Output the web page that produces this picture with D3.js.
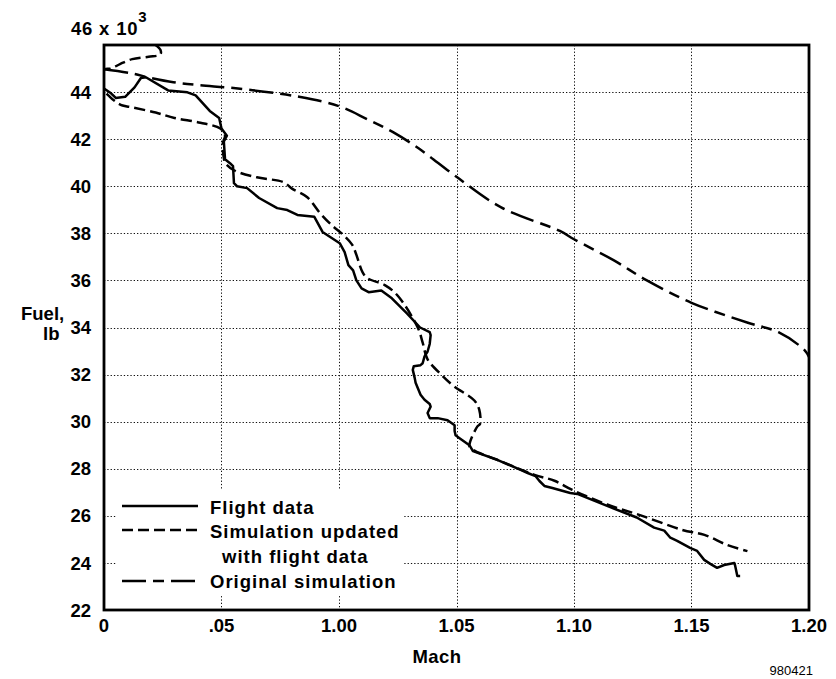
<!DOCTYPE html>
<html>
<head>
<meta charset="utf-8">
<script src="https://cdn.jsdelivr.net/npm/d3@7"></script>
<style>
  html, body { margin: 0; padding: 0; background: #fff; }
  svg { display: block; }
  text { font-family: "Liberation Sans", Arial, Helvetica, sans-serif; fill: #000; }
</style>
</head>
<body>
<svg id="chart" width="836" height="679"></svg>
<script>
// Mach tick values and their printed labels
const machTicks = [0.90, 0.95, 1.00, 1.05, 1.10, 1.15, 1.20];
const machLabels = ["0", ".05", "1.00", "1.05", "1.10", "1.15", "1.20"];
// Fuel tick values (thousands of lb)
const fuelTicks = [22, 24, 26, 28, 30, 32, 34, 36, 38, 40, 42, 44];

// Flight data: [Mach, fuel (x 10^3 lb)]
const flightData = [
  [0.900, 44.15], [0.903, 43.95], [0.905, 43.75], [0.909, 43.8], [0.913, 44.2],
  [0.9157, 44.6], [0.9178, 44.63], [0.9273, 44.07], [0.9355, 43.99], [0.939, 43.86],
  [0.945, 43.2], [0.949, 42.9], [0.950, 42.45], [0.9523, 42.15], [0.951, 41.9],
  [0.9515, 41.15], [0.9536, 40.98], [0.9549, 40.85], [0.9553, 40.13], [0.9566, 40.0],
  [0.9609, 39.92], [0.966, 39.5], [0.9737, 39.07], [0.978, 38.99], [0.9823, 38.78],
  [0.9895, 38.7], [0.993, 38.06], [1.0003, 37.58], [1.0024, 37.2], [1.004, 36.65],
  [1.006, 36.43], [1.0074, 36.0], [1.0096, 35.66], [1.0126, 35.5], [1.018, 35.57],
  [1.0225, 35.24], [1.0289, 34.6], [1.0345, 34.0], [1.0386, 33.8], [1.039, 33.68],
  [1.0386, 33.3], [1.0377, 32.98], [1.0364, 32.77], [1.0356, 32.48], [1.0347, 32.4],
  [1.0318, 32.35], [1.0314, 32.2], [1.0322, 31.86], [1.0326, 31.65], [1.0347, 31.14],
  [1.0364, 30.93], [1.0386, 30.75], [1.039, 30.64], [1.0377, 30.37], [1.0386, 30.15],
  [1.042, 30.15], [1.0462, 30.06], [1.0492, 29.85], [1.0492, 29.6], [1.0496, 29.42],
  [1.0513, 29.3], [1.0555, 29.0], [1.057, 28.75], [1.0676, 28.37], [1.0773, 27.95],
  [1.0803, 27.82], [1.0836, 27.69], [1.0853, 27.48], [1.0874, 27.27], [1.0908, 27.18],
  [1.0984, 26.97], [1.1014, 26.93], [1.1141, 26.42], [1.1267, 25.93], [1.1341, 25.5],
  [1.1384, 25.37], [1.141, 25.07], [1.1439, 24.94], [1.1494, 24.64], [1.1524, 24.51],
  [1.1554, 24.13], [1.158, 23.96], [1.1609, 23.79], [1.1639, 23.91], [1.1682, 24.0],
  [1.1686, 23.87], [1.1695, 23.44], [1.1707, 23.44]
];

// Simulation updated with flight data
const updatedSim = [
  [0.9219, 46.0], [0.924, 45.8], [0.924, 45.6], [0.919, 45.5], [0.912, 45.4],
  [0.907, 45.2], [0.903, 45.0], [0.900, 44.95], [0.900, 44.1], [0.9025, 43.8],
  [0.9054, 43.56], [0.9079, 43.43], [0.912, 43.35], [0.922, 43.13], [0.930, 42.9],
  [0.941, 42.7], [0.9495, 42.45], [0.9515, 42.15], [0.9505, 41.8], [0.951, 41.2],
  [0.9515, 41.0], [0.9553, 40.68], [0.965, 40.38], [0.9765, 40.17], [0.980, 39.9],
  [0.9865, 39.53], [0.992, 38.85], [0.997, 38.34], [1.0015, 37.96], [1.0055, 37.53],
  [1.007, 37.2], [1.010, 36.35], [1.012, 36.1], [1.0195, 35.8], [1.025, 35.35],
  [1.0335, 34.0], [1.0356, 33.36], [1.0377, 32.65], [1.044, 31.95], [1.049, 31.5],
  [1.0576, 30.9], [1.0597, 30.5], [1.060, 29.9], [1.0589, 29.8], [1.0555, 28.95],
  [1.057, 28.8], [1.0676, 28.37], [1.0832, 27.74], [1.0917, 27.49], [1.0993, 27.1],
  [1.1141, 26.48], [1.1290, 26.0], [1.1461, 25.4], [1.1555, 25.19], [1.1653, 24.76],
  [1.1738, 24.5]
];

// Original simulation
const originalSim = [
  [0.900, 44.97], [0.9115, 44.8], [0.920, 44.6], [0.9295, 44.42], [0.940, 44.3],
  [0.957, 44.15], [0.983, 43.8], [1.000, 43.4], [1.012, 42.85], [1.023, 42.3],
  [1.034, 41.6], [1.050, 40.4], [1.069, 39.1], [1.094, 38.1], [1.100, 37.75],
  [1.117, 36.85], [1.131, 36.0], [1.150, 35.05], [1.174, 34.2], [1.187, 33.8],
  [1.198, 33.05], [1.200, 32.75]
];

const legendItems = [
  { lines: ["Flight data"], dash: null },
  { lines: ["Simulation updated", "with flight data"], dash: "11,5" },
  { lines: ["Original simulation"], dash: "24,7,11,7" }
];

const svg = d3.select("#chart");
const plotLeft = 104, plotRight = 809, plotTop = 45, plotBottom = 610;

const x = d3.scaleLinear().domain([0.90, 1.20]).range([plotLeft, plotRight]);
const y = d3.scaleLinear().domain([22, 46]).range([plotBottom, plotTop]);

svg.append("defs").append("clipPath").attr("id", "plotClip")
  .append("rect").attr("x", plotLeft).attr("y", plotTop)
  .attr("width", plotRight - plotLeft).attr("height", plotBottom - plotTop);

// dotted grid
const grid = svg.append("g").attr("stroke", "#111").attr("stroke-width", 1)
  .attr("stroke-dasharray", "1.3,2");
grid.selectAll("line.v").data(machTicks.slice(1, -1)).join("line")
  .attr("class", "v")
  .attr("x1", d => Math.round(x(d)) + 0.5).attr("x2", d => Math.round(x(d)) + 0.5)
  .attr("y1", plotTop).attr("y2", plotBottom);
grid.selectAll("line.h").data(fuelTicks.slice(1)).join("line")
  .attr("class", "h")
  .attr("x1", plotLeft).attr("x2", plotRight)
  .attr("y1", d => Math.round(y(d)) + 0.5).attr("y2", d => Math.round(y(d)) + 0.5);

// legend background
svg.append("rect").attr("x", 116).attr("y", 490).attr("width", 288).attr("height", 106)
  .attr("fill", "#fff");

// series
const plot = svg.append("g").attr("clip-path", "url(#plotClip)").attr("fill", "none")
  .attr("stroke", "#000").attr("stroke-width", 2.5).attr("stroke-linejoin", "round");

const linePlain = d3.line().x(d => x(d[0])).y(d => y(d[1]));
const lineSmooth = d3.line().x(d => x(d[0])).y(d => y(d[1])).curve(d3.curveCatmullRom.alpha(0.5));

plot.append("path").datum(originalSim).attr("d", lineSmooth)
  .attr("stroke-dasharray", "24,7,11,7");
plot.append("path").datum(updatedSim).attr("d", lineSmooth)
  .attr("stroke-dasharray", "11,5");
plot.append("path").datum(flightData).attr("d", linePlain);

// frame
svg.append("rect").attr("x", plotLeft).attr("y", plotTop)
  .attr("width", plotRight - plotLeft).attr("height", plotBottom - plotTop)
  .attr("fill", "none").attr("stroke", "#000").attr("stroke-width", 2.8);

// y tick labels
svg.append("g").selectAll("text").data(fuelTicks).join("text")
  .attr("x", 91).attr("y", d => y(d)).attr("dy", "0.36em")
  .attr("text-anchor", "end").attr("font-size", 18.5).attr("font-weight", "bold")
  .text(d => d);

// 46 x 10^3 top label
const topLbl = svg.append("text").attr("x", 71).attr("y", 35)
  .attr("font-size", 18.5).attr("font-weight", "bold").attr("letter-spacing", 0.8);
topLbl.append("tspan").text("46 x 10");
topLbl.append("tspan").attr("dy", -13).attr("font-size", 15).text("3");

// x tick labels
svg.append("g").selectAll("text").data(machTicks).join("text")
  .attr("x", d => x(d)).attr("y", 632)
  .attr("text-anchor", "middle").attr("font-size", 18.5).attr("font-weight", "bold")
  .text((d, i) => machLabels[i]);

// axis titles
svg.append("text").attr("x", 437).attr("y", 663).attr("text-anchor", "middle")
  .attr("font-size", 18.5).attr("font-weight", "bold").attr("letter-spacing", 0.4).text("Mach");
svg.append("text").attr("x", 21).attr("y", 320)
  .attr("font-size", 18.5).attr("font-weight", "bold").text("Fuel,");
svg.append("text").attr("x", 43).attr("y", 340)
  .attr("font-size", 18.5).attr("font-weight", "bold").text("lb");

svg.append("text").attr("x", 813).attr("y", 675).attr("text-anchor", "end")
  .attr("font-size", 13).text("980421");

// legend
const legendRows = [506, 530, 581];
const textRows = [[514], [538, 563], [588]];
const lg = svg.append("g");
legendItems.forEach((item, i) => {
  lg.append("line").attr("x1", 122).attr("x2", 198)
    .attr("y1", legendRows[i]).attr("y2", legendRows[i])
    .attr("stroke", "#000").attr("stroke-width", 2.5)
    .attr("stroke-dasharray", item.dash);
  item.lines.forEach((t, j) => {
    lg.append("text").attr("x", j === 0 ? 210 : 222).attr("y", textRows[i][j])
      .attr("font-size", 18.5).attr("font-weight", "bold").attr("letter-spacing", 1.0)
      .text(t);
  });
});
</script>
</body>
</html>
